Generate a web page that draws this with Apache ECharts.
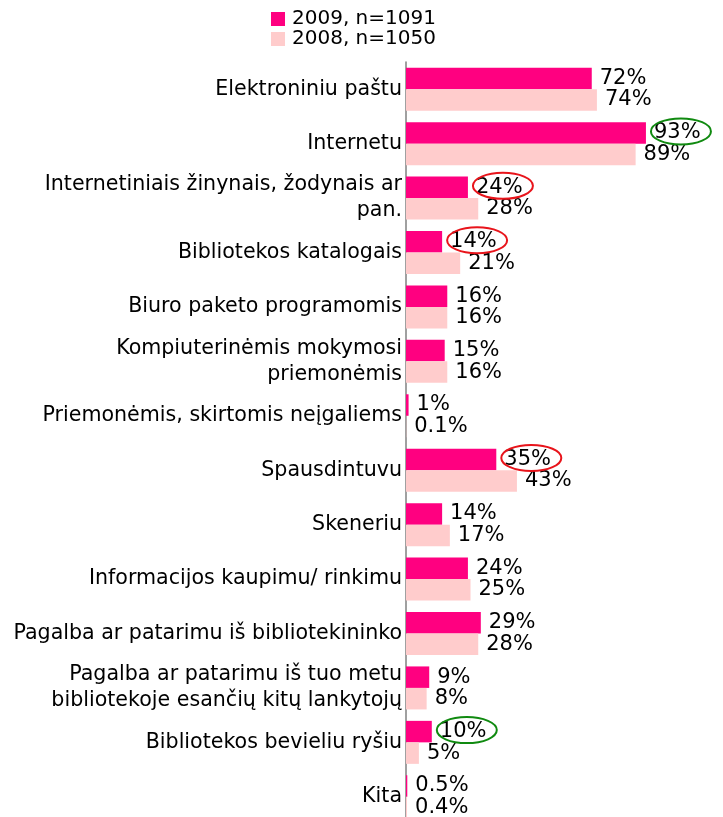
<!DOCTYPE html>
<html>
<head>
<meta charset="utf-8">
<script src="https://cdn.jsdelivr.net/npm/echarts@6/dist/echarts.min.js"></script>
<style>
  html, body { margin: 0; padding: 0; background: #fff; overflow: hidden; }
  #chart { width: 723px; height: 824px; }
</style>
</head>
<body>
<div id="chart"></div>
<script>
// Ways the library's resources were used
const categories = [
  'Elektroniniu paštu',
  'Internetu',
  'Internetiniais žinynais, žodynais ar\npan.',
  'Bibliotekos katalogais',
  'Biuro paketo programomis',
  'Kompiuterinėmis mokymosi\npriemonėmis',
  'Priemonėmis, skirtomis neįgaliems',
  'Spausdintuvu',
  'Skeneriu',
  'Informacijos kaupimu/ rinkimu',
  'Pagalba ar patarimu iš bibliotekininko',
  'Pagalba ar patarimu iš tuo metu\nbibliotekoje esančių kitų lankytojų',
  'Bibliotekos bevieliu ryšiu',
  'Kita'
];
const seriesNames = ['2009, n=1091', '2008, n=1050'];
const values2009 = [72, 93, 24, 14, 16, 15, 1, 35, 14, 24, 29, 9, 10, 0.5];
const values2008 = [74, 89, 28, 21, 16, 16, 0.1, 43, 17, 25, 28, 8, 5, 0.4];

// Values of 2009 that are circled: green = notable rise, red = notable drop
const risenIdx = [1, 12];
const fallenIdx = [2, 3, 7];

const FONT = 'DejaVu Sans, Verdana, sans-serif';
const BAR_W = 21.5;

const circled = [];
risenIdx.forEach(i => circled.push([values2009[i], categories[i], '#108a10']));
fallenIdx.forEach(i => circled.push([values2009[i], categories[i], '#e8141b']));

const chart = echarts.init(document.getElementById('chart'));

chart.setOption({
  backgroundColor: '#ffffff',
  animation: false,
  legend: {
    data: seriesNames,
    orient: 'vertical',
    left: 266,
    top: 4,
    itemWidth: 14,
    itemHeight: 14,
    itemGap: 0,
    icon: 'rect',
    textStyle: { fontFamily: FONT, fontSize: 20, color: '#000', lineHeight: 20, padding: [0, 0, 0, 2] }
  },
  grid: { left: 406, top: 62, width: 258, bottom: 0 },
  xAxis: {
    type: 'value',
    min: 0,
    max: 100,
    show: false
  },
  yAxis: {
    type: 'category',
    data: categories,
    inverse: true,
    axisLine: { show: true, lineStyle: { color: '#808080', width: 1.5 } },
    axisTick: { show: false },
    axisLabel: {
      margin: 4,
      fontFamily: FONT,
      fontSize: 20.6,
      lineHeight: 26,
      color: '#000',
      align: 'right'
    }
  },
  series: [
    {
      name: seriesNames[0],
      type: 'bar',
      data: values2009,
      barWidth: BAR_W,
      barGap: 0,
      itemStyle: { color: '#ff0080' },
      label: {
        show: true,
        position: 'right',
        distance: 8,
        fontFamily: FONT,
        fontSize: 21,
        color: '#000',
        formatter: p => p.value + '%'
      }
    },
    {
      name: seriesNames[1],
      type: 'bar',
      data: values2008,
      barWidth: BAR_W,
      barGap: 0,
      itemStyle: { color: '#ffcccc' },
      label: {
        show: true,
        position: 'right',
        distance: 8,
        fontFamily: FONT,
        fontSize: 21,
        color: '#000',
        formatter: p => p.value + '%'
      }
    },
    {
      // ellipses drawn around the circled 2009 value labels
      type: 'custom',
      coordinateSystem: 'cartesian2d',
      encode: { x: 0, y: 1 },
      silent: true,
      z: 10,
      data: circled,
      renderItem: (params, api) => {
        const pt = api.coord([api.value(0), api.value(1)]);
        const color = circled[params.dataIndex][2];
        return {
          type: 'ellipse',
          shape: { cx: pt[0] + 35, cy: pt[1] - BAR_W / 2 - 1.5, rx: 30, ry: 13 },
          style: { fill: 'none', stroke: color, lineWidth: 2 }
        };
      }
    }
  ]
});
</script>
</body>
</html>
